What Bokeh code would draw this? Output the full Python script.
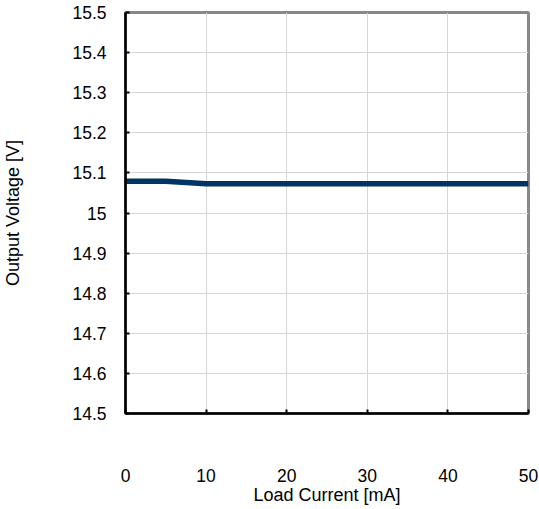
from bokeh.plotting import figure
from bokeh.models import FixedTicker, Range1d
from bokeh.embed import file_html
from bokeh.resources import INLINE

load_current = [0, 5, 10, 20, 30, 40, 50]
output_voltage = [15.079, 15.079, 15.073, 15.073, 15.073, 15.073, 15.073]
x_ticks = [0, 10, 20, 30, 40, 50]
y_ticks = [14.5, 14.6, 14.7, 14.8, 14.9, 15.0, 15.1, 15.2, 15.3, 15.4, 15.5]
y_labels = {14.5: "14.5", 14.6: "14.6", 14.7: "14.7", 14.8: "14.8", 14.9: "14.9",
            15.0: "15", 15.1: "15.1", 15.2: "15.2", 15.3: "15.3", 15.4: "15.4", 15.5: "15.5"}

p = figure(width=539, height=509, output_backend="svg", toolbar_location=None,
           x_range=Range1d(0, 50), y_range=Range1d(14.5, 15.5),
           min_border_left=124, min_border_right=11, min_border_top=12, min_border_bottom=96)

p.line(load_current, output_voltage, line_color="#003366", line_width=5.5)

p.outline_line_color = "#888888"
p.outline_line_width = 3

tick_font = "Liberation Sans"
for ax in (p.xaxis[0], p.yaxis[0]):
    ax.axis_line_color = "black"
    ax.axis_line_width = 2.5
    ax.major_tick_line_color = "black"
    ax.major_tick_line_width = 2
    ax.major_tick_in = 4
    ax.major_tick_out = 0
    ax.minor_tick_line_color = None
    ax.major_label_text_font = tick_font
    ax.major_label_text_font_size = "17.5px"
    ax.major_label_text_color = "black"
    ax.axis_label_text_font = "Liberation Sans"
    ax.axis_label_text_font_size = "18px"
    ax.axis_label_text_font_style = "normal"
    ax.axis_label_text_color = "black"

p.xaxis.ticker = FixedTicker(ticks=x_ticks)
p.yaxis.ticker = FixedTicker(ticks=y_ticks)
p.yaxis.major_label_overrides = {k: v for k, v in y_labels.items()}
p.xaxis.axis_label = "Load Current [mA]"
p.yaxis.axis_label = "Output Voltage [V]"
p.xaxis.major_label_standoff = 55
p.xaxis.axis_label_standoff = 0
p.yaxis.major_label_standoff = 19
p.yaxis.axis_label_standoff = 46

p.xgrid.grid_line_color = "#d6d6d6"
p.ygrid.grid_line_color = "#d6d6d6"
p.xgrid.grid_line_width = 1
p.ygrid.grid_line_width = 1

open("out.html", "w").write(file_html(p, INLINE))
